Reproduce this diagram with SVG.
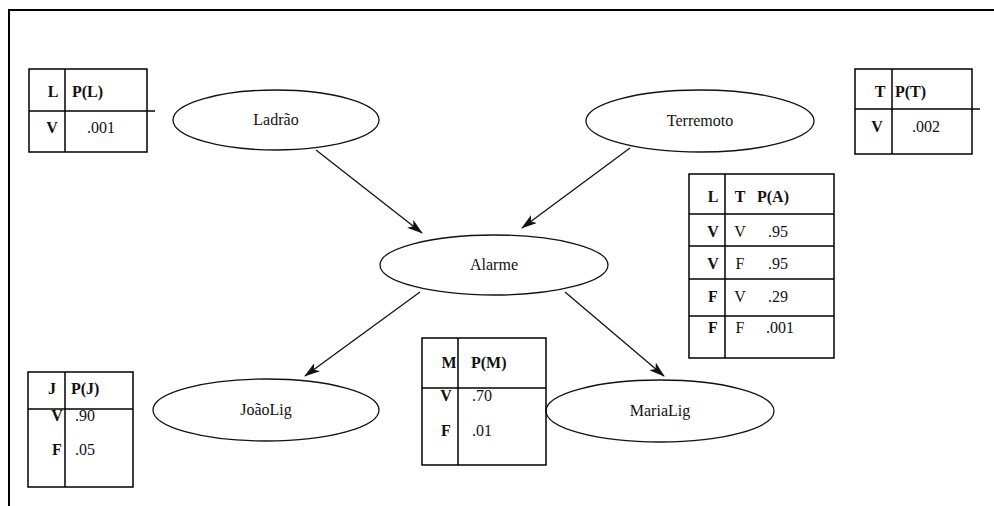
<svg xmlns="http://www.w3.org/2000/svg" width="994" height="506" viewBox="0 0 994 506">
  <style>
    text { font-family: 'Liberation Serif', 'DejaVu Serif', serif; fill: #111; }
    .frame { fill: none; stroke: #000; stroke-width: 2; }
    .node ellipse { fill: #fff; stroke: #111; stroke-width: 1.3; }
    .node text { font-size: 16px; text-anchor: middle; }
    .cpt rect, .cpt line { fill: none; stroke: #000; stroke-width: 1.5; }
    .cpt text { font-size: 16px; }
    .cpt .h { font-weight: bold; }
    .edge { stroke: #111; stroke-width: 1.3; fill: none; marker-end: url(#arrow); }
  </style>
  <defs>
    <marker id="arrow" viewBox="0 0 16 10" refX="15" refY="5" markerWidth="16" markerHeight="10" markerUnits="userSpaceOnUse" orient="auto">
      <path d="M0,0 L16,5 L0,10 L4,5 z" fill="#111"/>
    </marker>
  </defs>
  <rect width="994" height="506" fill="#fff"/>

  <!-- outer frame -->
  <path class="frame" d="M9,506 V10 H994"/>

  <!-- connectors -->
  <g id="edges">
    <line class="edge" x1="316" y1="150" x2="422" y2="233"/>
    <line class="edge" x1="630" y1="148" x2="522" y2="228"/>
    <line class="edge" x1="420" y1="292" x2="305" y2="376"/>
    <line class="edge" x1="565" y1="292" x2="664" y2="376"/>
  </g>

  <!-- nodes -->
  <g id="node-ladrao" class="node">
    <ellipse cx="276" cy="120" rx="103" ry="30"/>
    <text x="276" y="125">Ladrão</text>
  </g>
  <g id="node-terremoto" class="node">
    <ellipse cx="700" cy="121" rx="114" ry="31"/>
    <text x="700" y="126">Terremoto</text>
  </g>
  <g id="node-alarme" class="node">
    <ellipse cx="494" cy="265" rx="114" ry="30"/>
    <text x="494" y="270">Alarme</text>
  </g>
  <g id="node-joaolig" class="node">
    <ellipse cx="266" cy="410" rx="113" ry="31"/>
    <text x="266" y="415">JoãoLig</text>
  </g>
  <g id="node-marialig" class="node">
    <ellipse cx="660" cy="411" rx="114" ry="31"/>
    <text x="660" y="416">MariaLig</text>
  </g>

  <!-- probability tables -->
  <g id="cpt-l" class="cpt">
    <rect x="29" y="69" width="118" height="83"/>
    <line x1="65" y1="69" x2="65" y2="152"/>
    <line x1="29" y1="111" x2="155" y2="111"/>
    <text class="h" x="53" y="97" text-anchor="middle">L</text>
    <text class="h" x="72" y="97">P(L)</text>
    <text class="h" x="52" y="133" text-anchor="middle">V</text>
    <text x="87" y="133">.001</text>
  </g>

  <g id="cpt-t" class="cpt">
    <rect x="855" y="69" width="117" height="85"/>
    <line x1="892" y1="69" x2="892" y2="154"/>
    <line x1="855" y1="109" x2="980" y2="109"/>
    <text class="h" x="880" y="97" text-anchor="middle">T</text>
    <text class="h" x="895" y="97">P(T)</text>
    <text class="h" x="877" y="132" text-anchor="middle">V</text>
    <text x="912" y="132">.002</text>
  </g>

  <g id="cpt-a" class="cpt">
    <rect x="689" y="174" width="145" height="184"/>
    <line x1="725" y1="174" x2="725" y2="358"/>
    <line x1="689" y1="214" x2="834" y2="214"/>
    <line x1="689" y1="246" x2="834" y2="246"/>
    <line x1="689" y1="279" x2="834" y2="279"/>
    <line x1="689" y1="316" x2="834" y2="316"/>
    <text class="h" x="713" y="202" text-anchor="middle">L</text>
    <text class="h" x="740" y="202" text-anchor="middle">T</text>
    <text class="h" x="757" y="202">P(A)</text>
    <text class="h" x="713" y="237" text-anchor="middle">V</text>
    <text x="740" y="237" text-anchor="middle">V</text>
    <text x="768" y="237">.95</text>
    <text class="h" x="713" y="269" text-anchor="middle">V</text>
    <text x="740" y="269" text-anchor="middle">F</text>
    <text x="768" y="269">.95</text>
    <text class="h" x="713" y="302" text-anchor="middle">F</text>
    <text x="740" y="302" text-anchor="middle">V</text>
    <text x="768" y="302">.29</text>
    <text class="h" x="713" y="333" text-anchor="middle">F</text>
    <text x="740" y="333" text-anchor="middle">F</text>
    <text x="766" y="333">.001</text>
  </g>

  <g id="cpt-j" class="cpt">
    <text class="h" x="52" y="394" text-anchor="middle">J</text>
    <text class="h" x="71" y="394">P(J)</text>
    <text class="h" x="57" y="421" text-anchor="middle">V</text>
    <text x="75" y="421">.90</text>
    <text class="h" x="57" y="455" text-anchor="middle">F</text>
    <text x="75" y="455">.05</text>
    <rect x="28" y="372" width="105" height="115"/>
    <line x1="65" y1="372" x2="65" y2="487"/>
    <line x1="28" y1="409" x2="133" y2="409"/>
  </g>

  <g id="cpt-m" class="cpt">
    <text class="h" x="449" y="368" text-anchor="middle">M</text>
    <text class="h" x="471" y="368">P(M)</text>
    <text class="h" x="446" y="401" text-anchor="middle">V</text>
    <text x="472" y="401">.70</text>
    <text class="h" x="446" y="436" text-anchor="middle">F</text>
    <text x="472" y="436">.01</text>
    <rect x="422" y="338" width="124" height="127"/>
    <line x1="458" y1="338" x2="458" y2="465"/>
    <line x1="422" y1="388" x2="546" y2="388"/>
  </g>
</svg>
